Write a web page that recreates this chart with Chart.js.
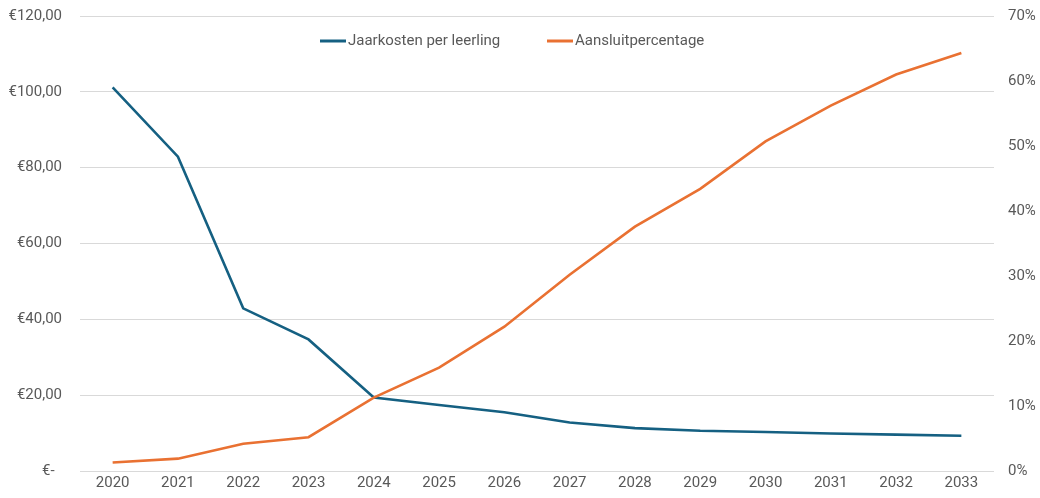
<!DOCTYPE html>
<html>
<head>
<meta charset="utf-8">
<script src="https://cdn.jsdelivr.net/npm/chart.js@4/dist/chart.umd.min.js"></script>
<style>
html,body{margin:0;padding:0;background:#fff;}
#wrap{width:1040px;height:498px;}
</style>
</head>
<body>
<div id="wrap"><canvas id="c" width="1040" height="498"></canvas></div>
<script>
const years = ['2020','2021','2022','2023','2024','2025','2026','2027','2028','2029','2030','2031','2032','2033'];
const jaarkosten = [101.2, 82.9, 42.9, 34.7, 19.4, 17.4, 15.5, 12.8, 11.3, 10.6, 10.3, 9.9, 9.6, 9.3];
const aansluitpercentage = [1.3, 1.9, 4.2, 5.2, 11.3, 15.9, 22.2, 30.2, 37.6, 43.4, 50.7, 56.2, 61.0, 64.3];
const leftTickLabels = ['€-', '€20,00', '€40,00', '€60,00', '€80,00', '€100,00', '€120,00'];
const rightTickLabels = ['0%', '10%', '20%', '30%', '40%', '50%', '60%', '70%'];
const seriesNames = ['Jaarkosten per leerling', 'Aansluitpercentage'];

const BLUE = '#156082';
const ORANGE = '#E97132';
const TEXT = '#595959';
const FONT = 'Roboto, "Liberation Sans", sans-serif';
const FS = 15;

const legendPlugin = {
  id: 'topLegend',
  afterDraw(chart) {
    const ctx = chart.ctx;
    ctx.save();
    ctx.font = FS + 'px ' + FONT;
    ctx.textBaseline = 'middle';
    const lineW = 26, gapText = 2;
    const starts = [320, 547];
    const y = 41;
    chart.data.datasets.forEach((d, i) => {
      const x = starts[i];
      ctx.strokeStyle = d.borderColor;
      ctx.lineWidth = 3;
      ctx.beginPath();
      ctx.moveTo(x, y);
      ctx.lineTo(x + lineW, y);
      ctx.stroke();
      ctx.fillStyle = TEXT;
      ctx.textAlign = 'left';
      ctx.fillText(d.label, x + lineW + gapText, y);
    });
    ctx.restore();
  }
};

new Chart(document.getElementById('c'), {
  type: 'line',
  data: {
    labels: years,
    datasets: [
      {label: seriesNames[0], data: jaarkosten, borderColor: BLUE, backgroundColor: BLUE, borderWidth: 2.6, pointRadius: 0, tension: 0, yAxisID: 'y', order: 1},
      {label: seriesNames[1], data: aansluitpercentage, borderColor: ORANGE, backgroundColor: ORANGE, borderWidth: 2.6, pointRadius: 0, tension: 0, yAxisID: 'y1', order: 0}
    ]
  },
  options: {
    responsive: false,
    animation: false,
    layout: {padding: {top: 16, left: 0, right: 0, bottom: 0}},
    plugins: {legend: {display: false}, tooltip: {enabled: false}},
    scales: {
      x: {
        offset: true,
        grid: {display: false, drawTicks: false},
        border: {display: false},
        ticks: {color: TEXT, font: {family: FONT, size: FS}, padding: 3, maxRotation: 0},
        afterFit(s) { s.height = 27; }
      },
      y: {
        position: 'left',
        min: 0, max: 120,
        ticks: {stepSize: 20, color: TEXT, font: {family: FONT, size: FS}, padding: 0,
          callback: (v, i) => i === 0 ? leftTickLabels[i] + '  ' : leftTickLabels[i]},
        grid: {color: '#d9d9d9', lineWidth: 1, drawTicks: true, tickLength: 18, tickColor: 'rgba(0,0,0,0)'},
        border: {display: false},
        afterFit(s) { s.width = 80; }
      },
      y1: {
        position: 'right',
        min: 0, max: 70,
        ticks: {stepSize: 10, color: TEXT, font: {family: FONT, size: FS}, padding: 0,
          callback: (v, i) => rightTickLabels[i]},
        grid: {display: false, drawTicks: true, tickLength: 14},
        border: {display: false},
        afterFit(s) { s.width = 46; }
      }
    }
  },
  plugins: [legendPlugin]
});
</script>
</body>
</html>
